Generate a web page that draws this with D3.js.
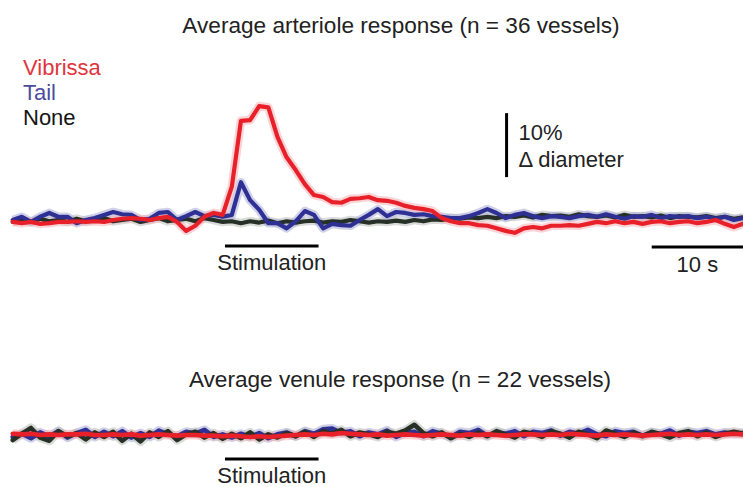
<!DOCTYPE html>
<meta charset="utf-8" />
<script src="https://d3js.org/d3.v7.min.js"></script>
<style>
  body { margin: 0; background: #fff; }
  svg text { font-family: "Liberation Sans", Arial, sans-serif; font-size: 22px; fill: #222; }
  svg text.title { font-size: 22.6px; }
</style>
<body>
<svg id="chart" width="743" height="487"></svg>
<script>
// time (s) relative to stimulation onset
const times = [
  -23,-22,-21,-20,-19,-18,-17,-16,-15,-14,
  -13,-12,-11,-10,-9,-8,-7,-6,-5,-4,
  -3,-2,-1,0,1,2,3,4,5,6,
  7,8,9,10,11,12,13,14,15,16,
  17,18,19,20,21,22,23,24,25,26,
  27,28,29,30,31,32,33,34,35,36,
  37,38,39,40,41,42,43,44,45,46,
  47,48,49,50,51,52,53,54,55,56,
  57];

// arteriole diameter change (%)
const artVibrissa = [
  -0.3,-0.5,-0.3,-0.6,-0.5,-0.3,-0.3,-0.2,-0.3,-0.2,
  -0.3,0,0.2,0.3,0.2,0,0.3,0.5,-0.3,-1.7,
  -0.9,0.5,1.1,0.8,5.2,15.5,15.6,17.8,17.6,13.0,
  9.8,7.8,5.6,3.9,3.6,2.8,2.7,3.3,3.4,3.6,
  3.1,3.0,2.7,2.2,1.9,1.7,1.4,0.3,-0.2,-0.5,
  -0.5,-0.8,-0.9,-1.3,-1.7,-2.0,-1.3,-1.1,-1.3,-0.9,
  -0.9,-0.8,-0.9,-0.6,-0.3,-0.5,-0.2,-0.5,-0.3,-0.6,
  -0.3,-0.2,-0.5,-0.3,-0.2,-0.5,-0.3,0,-0.6,-1.1,
  -0.6];
const artTail = [
  0,0.5,-0.3,0.5,1.1,0.5,0.5,-0.5,0,0.3,
  0.8,1.25,0.9,0.8,0,0.2,1.1,1.25,0,0.6,
  1.25,0.6,0.8,0.5,0.8,5.9,3.1,1.6,-0.5,-0.5,
  -1.3,-0.2,1.4,0.8,-1.3,-0.6,-0.8,-0.9,0,0.8,
  1.7,0.6,1.25,1.1,0.8,0.9,0.6,0.5,0.3,0.3,
  0.6,1.1,1.7,1.1,0.3,0.8,1.1,0.6,0.3,0.6,
  0.5,0.3,0.6,0.8,0.5,0.9,0.5,0.2,0.6,0.5,
  0.8,0.3,0.6,0.5,0.6,0.3,0.5,0.2,0.5,0,
  0.3];
const artNone = [
  -0.3,0,-0.3,0.2,-0.2,0,-0.3,0.2,-0.2,0,
  0.3,-0.2,0,0.2,-0.3,0,0.3,-0.2,0,0.2,
  -0.2,0.3,0,-0.3,-0.2,-0.5,-0.2,-0.4,-0.1,-0.5,
  -0.2,-0.4,-0.2,-0.1,-0.4,-0.2,-0.3,0,-0.2,-0.4,
  -0.2,-0.3,-0.1,-0.3,0,-0.2,0.1,0,0.3,0.2,
  0.4,0.3,0.5,0.3,0.6,0.5,0.7,0.4,0.8,0.6,
  0.7,0.5,0.9,0.6,0.5,0.7,0.4,0.8,0.5,0.6,
  0.4,0.7,0.3,0.6,0.5,0.4,0.6,0.3,0.5,0.2,
  0.4];

// venule diameter change (%)
const venVibrissa = [
  0.2,0.1,0.2,0,0.1,0,0.1,0.1,0.2,0,
  0,0.1,0,0.1,-0.1,0,0.1,0,-0.1,0,
  0,-0.1,-0.1,-0.2,-0.1,-0.2,-0.3,-0.2,-0.3,-0.2,
  -0.1,0,0.1,0,0.2,0.1,0.3,0.2,0.1,0,
  0.1,-0.1,0,0.1,0,-0.1,0,0.1,0,-0.1,
  0.1,0,0.1,0,-0.1,0,0.1,0.1,0,0.1,
  0,0.2,0.1,0,-0.1,0.1,0,0.1,0,-0.1,
  0,0.1,0.2,0,0.1,0,0.1,0,0.1,0.2,
  0.1];
const venTail = [
  -0.3,0.2,-0.5,0.4,-0.2,0.6,-0.4,0.3,0.8,-0.3,
  0.5,-0.2,0.6,-0.4,0.3,-0.3,0.7,0.1,-0.2,0.5,
  0.2,0.8,-0.3,0.1,-0.4,0.2,-0.3,0.3,-0.5,0.1,
  0.4,-0.2,0.6,0.2,0.9,1.0,0.3,0.6,-0.2,0.4,
  0.1,0.7,-0.3,0.3,0.5,-0.2,0.6,0.2,-0.3,0.5,
  0.3,0.8,-0.1,0.4,0.2,0.6,-0.2,0.5,0.3,0.7,
  -0.1,0.5,0.2,0.8,0.1,-0.2,0.6,0.3,0.5,-0.1,
  0.4,0.2,0.7,-0.1,0.5,0.3,0.6,0.1,0.4,0.2,
  0.3];
const venNone = [
  -0.8,0.2,1.1,-0.4,-0.9,0.6,-0.2,0.3,-0.7,0.4,
  -0.3,0.5,-0.9,0.2,-1.0,0.4,-0.3,0.6,-0.8,0.1,
  0.5,-0.4,0.3,-0.6,0.2,-0.5,0.4,-0.7,0.1,-0.4,
  0.3,-0.2,0.5,-0.3,0.6,0.2,0.8,-0.2,0.4,0.1,
  -0.3,0.5,0.2,0.7,1.6,0.3,-0.2,0.4,-0.5,0.2,
  -0.3,0.4,-0.2,0.6,0.1,-0.4,0.5,0.2,-0.3,0.6,
  0.2,-0.4,0.5,0.1,-0.5,0.7,0.2,-0.3,0.4,-0.2,
  0.5,0.1,-0.4,0.3,0.6,-0.2,0.4,-0.3,0.2,0.5,
  0.2];

const legendLabels = ["Vibrissa", "Tail", "None"];
const stimPeriod = [0.25, 10.5];     // s
const timeBar = [47, 57];            // 10 s
const pctBar = [6.7, 16.7];          // 10 %
const pctBarTime = 31.1;

const svg = d3.select("#chart"),
  width = +svg.attr("width");

const x = d3.scaleLinear().domain([-23.3, 57]).range([10, 743]);
// 10 % of diameter = 64 px
const yArt = d3.scaleLinear().domain([0, 10]).range([220, 156]);
const yVen = d3.scaleLinear().domain([0, 10]).range([435, 371]);

const colors = { red: "#e8202a", blue: "#2e3094", black: "#263026" };
const bands = { red: "#f6b3b6", blue: "#a9abd6", black: "#b9bdb9" };

function drawTraces(y, series, lw) {
  const line = d3.line()
    .x((d, i) => x(times[i]))
    .y(d => y(d));
  const g = svg.append("g");
  series.forEach(s => {
    g.append("path")
      .attr("d", line(s.values))
      .attr("fill", "none")
      .attr("stroke", bands[s.key])
      .attr("stroke-width", lw + 4.5)
      .attr("stroke-linejoin", "round")
      .attr("opacity", 0.55);
  });
  series.forEach(s => {
    g.append("path")
      .attr("d", line(s.values))
      .attr("fill", "none")
      .attr("stroke", colors[s.key])
      .attr("stroke-width", lw)
      .attr("stroke-linejoin", "round")
      .attr("stroke-linecap", "round");
  });
}

// titles
svg.append("text").attr("class", "title").attr("x", 401).attr("y", 33).attr("text-anchor", "middle")
  .text("Average arteriole response (n = 36 vessels)");
svg.append("text").attr("class", "title").attr("x", 400).attr("y", 387).attr("text-anchor", "middle")
  .text("Average venule response (n = 22 vessels)");

// legend
const legendColors = ["#de3540", "#4c4c9c", "#151515"];
svg.selectAll(".legend")
  .data(legendLabels)
  .enter()
  .append("text")
  .attr("class", "legend")
  .attr("x", 23)
  .attr("y", (d, i) => 75 + i * 25)
  .style("fill", (d, i) => legendColors[i])
  .text(d => d);

// traces
drawTraces(yArt, [
  { key: "black", values: artNone },
  { key: "blue", values: artTail },
  { key: "red", values: artVibrissa }
], 4.2);
drawTraces(yVen, [
  { key: "blue", values: venTail },
  { key: "black", values: venNone },
  { key: "red", values: venVibrissa }
], 4.6);

// stimulation bars
[[yArt, 26], [yVen, 24]].forEach(([y, off]) => {
  const by = y(0) + off;
  svg.append("line")
    .attr("x1", x(stimPeriod[0])).attr("x2", x(stimPeriod[1]))
    .attr("y1", by).attr("y2", by)
    .attr("stroke", "#000").attr("stroke-width", 3);
  svg.append("text")
    .attr("x", (x(stimPeriod[0]) + x(stimPeriod[1])) / 2)
    .attr("y", by + 24)
    .attr("text-anchor", "middle")
    .text("Stimulation");
});

// 10 s scale bar
svg.append("line")
  .attr("x1", x(timeBar[0])).attr("x2", x(timeBar[1]))
  .attr("y1", yArt(0) + 27).attr("y2", yArt(0) + 27)
  .attr("stroke", "#000").attr("stroke-width", 3);
svg.append("text")
  .attr("x", (x(timeBar[0]) + x(timeBar[1])) / 2)
  .attr("y", yArt(0) + 52)
  .attr("text-anchor", "middle")
  .text("10 s");

// 10 % scale bar
svg.append("line")
  .attr("x1", x(pctBarTime)).attr("x2", x(pctBarTime))
  .attr("y1", yArt(pctBar[0])).attr("y2", yArt(pctBar[1]))
  .attr("stroke", "#000").attr("stroke-width", 3);
svg.append("text")
  .attr("x", x(pctBarTime) + 12).attr("y", 140)
  .text("10%");
svg.append("text")
  .attr("x", x(pctBarTime) + 12).attr("y", 167)
  .text("\u0394 diameter");
</script>
</body>
